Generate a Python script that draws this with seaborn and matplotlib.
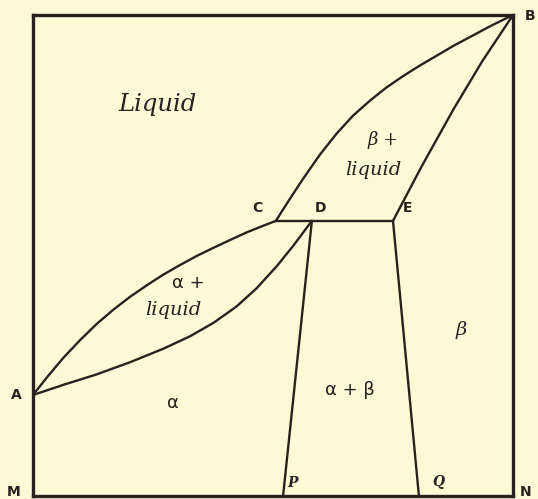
import numpy as np
import pandas as pd
import matplotlib
matplotlib.use("Agg")
import matplotlib.pyplot as plt
import seaborn as sns

# phase boundaries, composition (x, % of B) vs temperature (y, 0-100 scale)
liquidus_AC_x = [0.0, 2.85, 6.3, 9.8, 13.3, 16.7, 20.2, 23.7, 27.1, 30.6,
                 34.1, 37.6, 41.0, 44.5, 48.0, 50.6]
liquidus_AC_y = [21.0, 24.6, 28.7, 32.4, 35.8, 38.7, 41.4, 43.8, 46.0, 48.0,
                 49.9, 51.6, 53.2, 54.8, 56.2, 57.2]

solidus_AD_x = [0.0, 6.3, 13.3, 20.2, 27.1, 32.7, 37.6, 42.4, 46.6, 50.8,
                54.2, 58.1]
solidus_AD_y = [21.0, 23.1, 25.3, 27.8, 30.6, 33.2, 36.0, 39.4, 43.2, 47.8,
                52.0, 57.2]

liquidus_CB_x = [50.6, 53.4, 56.3, 59.8, 63.3, 66.7, 70.2, 73.6, 77.1, 80.6,
                 84.2, 87.6, 91.0, 95.5, 100.0]
liquidus_CB_y = [57.2, 61.6, 66.0, 71.0, 75.4, 79.1, 82.2, 84.9, 87.3, 89.5,
                 91.6, 93.6, 95.4, 97.8, 100.0]

solidus_EB_x = [75.0, 80.9, 87.6, 93.6, 100.0]
solidus_EB_y = [57.2, 68.4, 80.4, 90.4, 100.0]

eutectic_x = [50.6, 75.0]
eutectic_y = [57.2, 57.2]

solvus_DP_x = [58.1, 52.1]
solvus_DP_y = [57.2, 0.0]

solvus_EQ_x = [75.0, 80.4]
solvus_EQ_y = [57.2, 0.0]

curves = {
    "AC": (liquidus_AC_x, liquidus_AC_y),
    "AD": (solidus_AD_x, solidus_AD_y),
    "CB": (liquidus_CB_x, liquidus_CB_y),
    "EB": (solidus_EB_x, solidus_EB_y),
    "CE": (eutectic_x, eutectic_y),
    "DP": (solvus_DP_x, solvus_DP_y),
    "EQ": (solvus_EQ_x, solvus_EQ_y),
}

rows = []
for name, (xs, ys) in curves.items():
    for i, (x, y) in enumerate(zip(xs, ys)):
        rows.append({"curve": name, "order": i, "x": x, "y": y})
df = pd.DataFrame(rows)

bg = "#fafad6"
ink = "#2b2020"

sns.set_style("white")
plt.rcParams["font.family"] = ["DejaVu Sans"]
plt.rcParams["lines.solid_joinstyle"] = "round"
plt.rcParams["lines.solid_capstyle"] = "round"

fig = plt.figure(figsize=(5.38, 4.99), dpi=100, facecolor=bg)
ax = fig.add_axes([33 / 538, 3 / 499, 480 / 538, 481 / 499])
ax.set_facecolor(bg)

for name, grp in df.groupby("curve"):
    sns.lineplot(data=grp, x="x", y="y", sort=False, estimator=None,
                 color=ink, linewidth=1.7, ax=ax)

ax.set_xlim(0, 100)
ax.set_ylim(0, 100)
ax.set_xticks([])
ax.set_yticks([])
ax.set_xlabel("")
ax.set_ylabel("")
for sp in ax.spines.values():
    sp.set_visible(True)
    sp.set_color(ink)
    sp.set_linewidth(2.4)

serif_i = dict(family="DejaVu Serif", style="italic", color=ink)
ax.text(26.0, 81.3, "Liquid", fontsize=17.5, ha="center", va="center", **serif_i)
ax.text(72.9, 74.0, "β +", fontsize=13, ha="center", va="center", **serif_i)
ax.text(70.8, 67.8, "liquid", fontsize=14, ha="center", va="center", **serif_i)
ax.text(32.3, 44.3, "α +", fontsize=13, ha="center", va="center", color=ink)
ax.text(29.2, 38.7, "liquid", fontsize=14, ha="center", va="center", **serif_i)
ax.text(29.2, 19.3, "α", fontsize=13, ha="center", va="center", color=ink)
ax.text(66.0, 22.0, "α + β", fontsize=13, ha="center", va="center", color=ink)
ax.text(89.2, 34.5, "β", fontsize=14, ha="center", va="center", **serif_i)
ax.text(54.0, 2.7, "P", fontsize=10, ha="center", va="center",
        family="DejaVu Serif", style="italic", weight="bold", color=ink)
ax.text(84.4, 2.9, "Q", fontsize=10, ha="center", va="center",
        family="DejaVu Serif", style="italic", weight="bold", color=ink)

pts = {"A": (-3.5, 21.0), "B": (103.5, 99.8), "C": (46.7, 59.9),
       "D": (60.0, 59.9), "E": (78.1, 59.9), "M": (-4.0, 0.8), "N": (102.7, 0.8)}
for lab, (x, y) in pts.items():
    ax.text(x, y, lab, fontsize=10, weight="bold", ha="center", va="center",
            color=ink, clip_on=False)

fig.savefig("out.png", dpi=100, facecolor=bg)
